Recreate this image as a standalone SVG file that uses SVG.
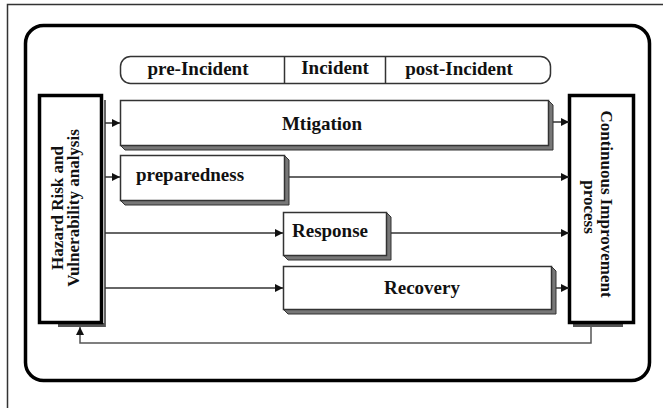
<svg xmlns="http://www.w3.org/2000/svg" width="663" height="408" viewBox="0 0 663 408">
<defs>
<marker id="ah" markerUnits="userSpaceOnUse" markerWidth="9" markerHeight="9" refX="8" refY="4" orient="auto">
<path d="M0,0 L8,4 L0,8 z" fill="#111"/>
</marker>
<style>
.t{font-family:"Liberation Serif","Times New Roman",serif;font-weight:bold;fill:#111}
.f19{font-size:19px}
.f17{font-size:17px}
.box{fill:#fff;stroke:#333;stroke-width:1.5}
.sh{fill:#777;stroke:#333;stroke-width:1}
.thick{fill:#fff;stroke:#000;stroke-width:3.5}
.ln{fill:none;stroke:#333;stroke-width:1.5}
.fb{fill:none;stroke:#555;stroke-width:1.5}
</style>
</defs>
<rect width="663" height="408" fill="#fff"/>
<rect x="7.5" y="4.5" width="660" height="410" fill="none" stroke="#333" stroke-width="1.5"/>
<rect x="25.5" y="25.5" width="624" height="355" rx="18" fill="none" stroke="#000" stroke-width="3.5"/>

<g id="timeline">
<rect x="120.5" y="56.5" width="430" height="27" rx="10" fill="#fff" stroke="#333" stroke-width="1.5"/>
<line x1="284.5" y1="56.5" x2="284.5" y2="83.5" stroke="#333" stroke-width="1.5"/>
<line x1="385.5" y1="56.5" x2="385.5" y2="83.5" stroke="#333" stroke-width="1.5"/>
<text class="t f19" x="198" y="75" text-anchor="middle">pre-Incident</text>
<text class="t f19" x="335" y="74" text-anchor="middle">Incident</text>
<text class="t f19" x="459" y="75" text-anchor="middle">post-Incident</text>
</g>

<g id="hazard">
<line x1="105" y1="100" x2="105" y2="327" stroke="#666" stroke-width="2"/>
<rect x="58" y="323" width="47" height="4" fill="#555"/>
<rect x="39.5" y="95.5" width="62" height="227" class="thick"/>
<text class="t f17" text-anchor="middle" transform="translate(63,208) rotate(-90)">Hazard Risk and</text>
<text class="t f17" text-anchor="middle" transform="translate(79,208) rotate(-90)">Vulnerability analysis</text>
</g>

<g id="continuous">
<rect x="573" y="323" width="50" height="4" fill="#555"/>
<rect x="569.5" y="95.5" width="64" height="227" class="thick"/>
<text class="t f17" text-anchor="middle" transform="translate(601,204) rotate(90)">Continuous Improvement</text>
<text class="t f17" text-anchor="middle" transform="translate(584,207) rotate(90)">process</text>
</g>

<g id="mitigation">
<polygon class="sh" points="548,100 553,105 553,150 125,150 120,145 548,145"/>
<rect x="120.5" y="100.5" width="428" height="45" class="box"/>
<text class="t f19" x="322" y="130" text-anchor="middle">Mtigation</text>
</g>

<g id="preparedness">
<polygon class="sh" points="284,155 289,160 289,205 125,205 120,200 284,200"/>
<rect x="120.5" y="155.5" width="164" height="45" class="box"/>
<text class="t f19" x="136" y="181">preparedness</text>
</g>

<g id="response">
<polygon class="sh" points="386,212 391,217 391,260 288,260 283,255 386,255"/>
<rect x="283.5" y="212.5" width="103" height="43" class="box"/>
<text class="t f19" x="292" y="237">Response</text>
</g>

<g id="recovery">
<polygon class="sh" points="551,266 556,271 556,314 288,314 283,309 551,309"/>
<rect x="283.5" y="266.5" width="268" height="43" class="box"/>
<text class="t f19" x="422" y="294" text-anchor="middle">Recovery</text>
</g>

<g id="connectors">
<line class="ln" x1="105" y1="123" x2="120" y2="123" marker-end="url(#ah)"/>
<line class="ln" x1="105" y1="177" x2="120" y2="177" marker-end="url(#ah)"/>
<line class="ln" x1="105" y1="233" x2="283" y2="233" marker-end="url(#ah)"/>
<line class="ln" x1="105" y1="288" x2="283" y2="288" marker-end="url(#ah)"/>
<line class="ln" x1="553" y1="122" x2="569" y2="122" marker-end="url(#ah)"/>
<line class="ln" x1="289" y1="177" x2="569" y2="177" marker-end="url(#ah)"/>
<line class="ln" x1="391" y1="233" x2="569" y2="233" marker-end="url(#ah)"/>
<line class="ln" x1="556" y1="288" x2="569" y2="288" marker-end="url(#ah)"/>
<polyline class="fb" points="591,327 591,343 80,343 80,327" marker-end="url(#ah)"/>
</g>
</svg>
